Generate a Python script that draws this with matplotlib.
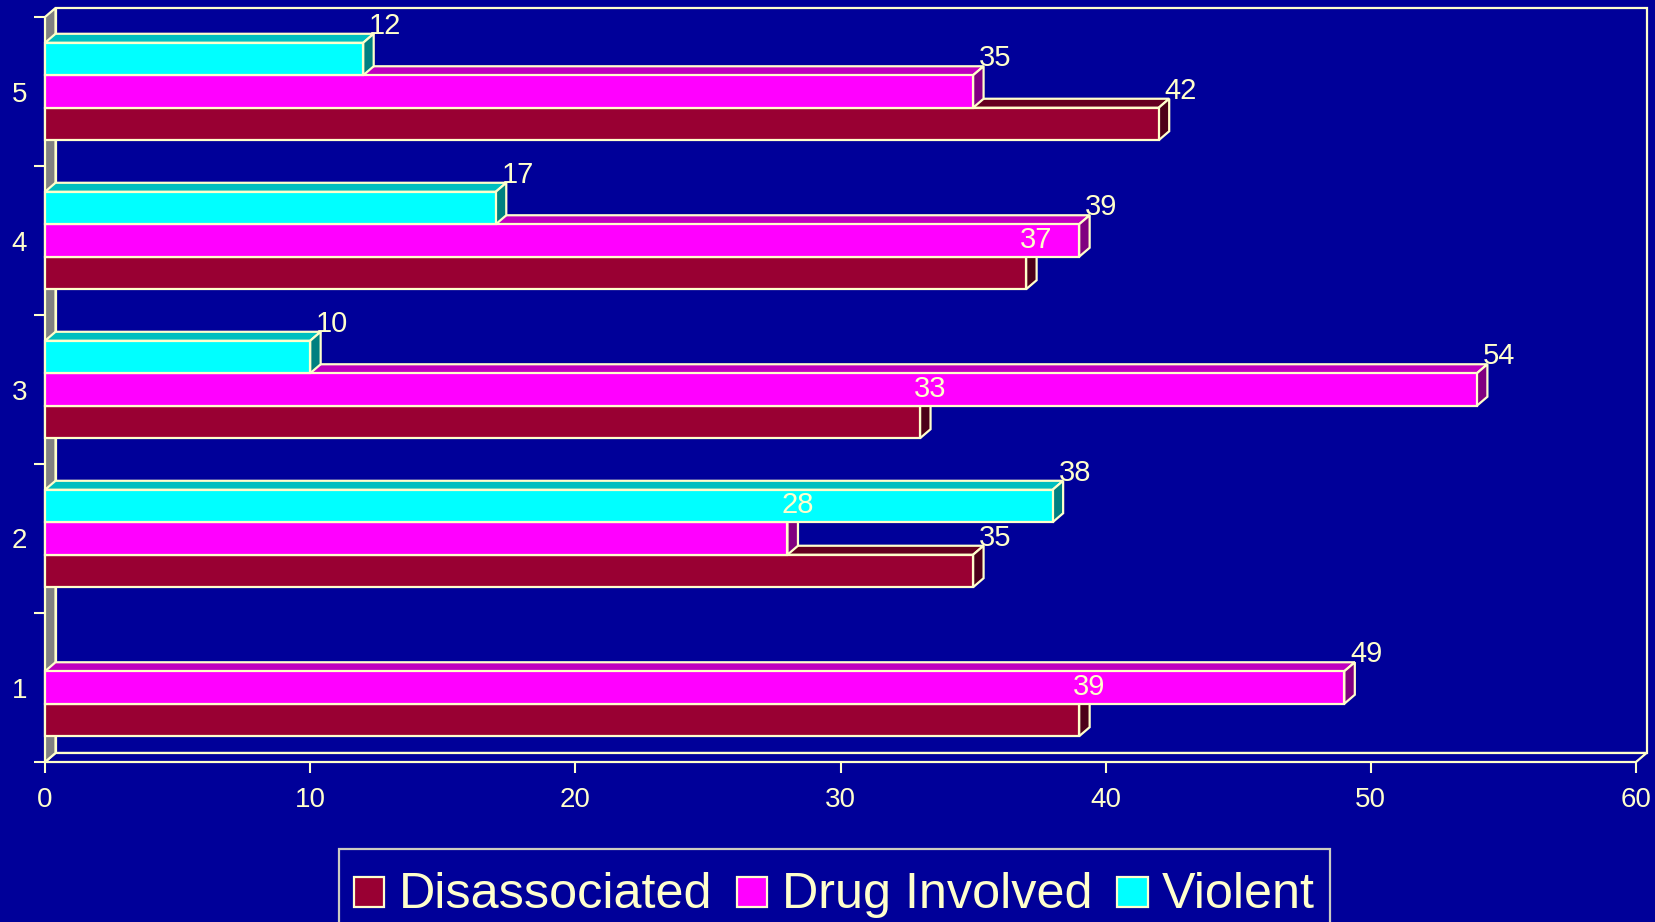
import matplotlib
matplotlib.use('Agg')
import matplotlib.pyplot as plt
from matplotlib.patches import Polygon, Rectangle
from matplotlib.legend_handler import HandlerPatch
import numpy as np

# ---- data -------------------------------------------------------------
categories = ['1', '2', '3', '4', '5']
disassociated = [39, 35, 33, 37, 42]
drug_involved = [49, 28, 54, 39, 35]
violent = [None, 38, 10, 17, 12]
x_ticks = [0, 10, 20, 30, 40, 50, 60]
series_names = ['Disassociated', 'Drug Involved', 'Violent']

# ---- style ------------------------------------------------------------
W, H, DPI = 1655, 922, 100
BG = '#000099'
EDGE = '#FFFFCC'
WALL = '#808080'
# front, top, side shades for each series
shades = [
    ('#990033', '#66001F', '#4D0019'),
    ('#FF00FF', '#BF00BF', '#800080'),
    ('#00FFFF', '#00BFBF', '#008080'),
]
LW = 1.6

plt.rcParams['font.family'] = ['Liberation Sans', 'DejaVu Sans']

fig = plt.figure(figsize=(W / DPI, H / DPI), dpi=DPI, facecolor=BG)
left_px, right_px, top_px, bottom_px = 45, 1636, 17, 762
ax = fig.add_axes([left_px / W, 1 - bottom_px / H,
                   (right_px - left_px) / W, (bottom_px - top_px) / H])
ax.set_facecolor('none')

xmax = x_ticks[-1]
n = len(categories)
ax.set_xlim(0, xmax)
ax.set_ylim(0.5, n + 0.5)

# depth of the pseudo-3D extrusion, converted from pixels to data units
sx = (right_px - left_px) / xmax
sy = (bottom_px - top_px) / n
ddx = 10.5 / sx
ddy = 9.0 / sy

y0, y1 = 0.5, n + 0.5

# walls: back, floor and left side
ax.add_patch(Polygon([(ddx, y0 + ddy), (xmax + ddx, y0 + ddy),
                      (xmax + ddx, y1 + ddy), (ddx, y1 + ddy)],
                     closed=True, fc=BG, ec=EDGE, lw=LW, clip_on=False, zorder=1))
ax.add_patch(Polygon([(0, y0), (xmax, y0), (xmax + ddx, y0 + ddy), (ddx, y0 + ddy)],
                     closed=True, fc=BG, ec=EDGE, lw=LW, clip_on=False, zorder=2))
ax.add_patch(Polygon([(0, y0), (ddx, y0 + ddy), (ddx, y1 + ddy), (0, y1)],
                     closed=True, fc=WALL, ec=EDGE, lw=LW, clip_on=False, zorder=2))

# ---- bars ---------------------------------------------------------------
bh = 0.218
series = [disassociated, drug_involved, violent]
labels = []
z = 3
for i, cat in enumerate(categories):
    yc = i + 1
    for k, vals in enumerate(series):
        v = vals[i]
        if v is None:
            continue
        front, top, side = shades[k]
        lo = yc + (k - 1) * bh - bh / 2
        hi = lo + bh
        ax.add_patch(Polygon([(0, hi), (v, hi), (v + ddx, hi + ddy), (ddx, hi + ddy)],
                             closed=True, fc=top, ec=EDGE, lw=LW, clip_on=False, zorder=z))
        ax.add_patch(Polygon([(v, lo), (v + ddx, lo + ddy), (v + ddx, hi + ddy), (v, hi)],
                             closed=True, fc=side, ec=EDGE, lw=LW, clip_on=False, zorder=z))
        ax.add_patch(Rectangle((0, lo), v, bh, fc=front, ec=EDGE, lw=LW,
                               clip_on=False, zorder=z + 0.5))
        z += 1
        # a label that lands on the longer bar above sits closer to its bar end
        above = series[k + 1][i] if k + 1 < len(series) else None
        inside = above is not None and above > v
        labels.append((v, hi, inside))

for v, hi, inside in labels:
    shift = (10 if inside else 22) / sx
    ax.text(v + shift, hi + ddy, f'{v}', ha='center', va='baseline',
            fontsize=21, color=EDGE, zorder=100, clip_on=False)

# ---- axes, ticks ------------------------------------------------------------
for sp in ax.spines.values():
    sp.set_visible(False)

ax.set_xticks(x_ticks)
ax.set_xticklabels([str(t) for t in x_ticks])
ax.tick_params(axis='x', colors=EDGE, length=8, width=1.5, labelsize=20, pad=10)

ax.set_yticks(np.arange(0.5, n + 1, 1.0))
ax.set_yticklabels([])
ax.set_yticks(np.arange(1, n + 1), minor=True)
ax.set_yticklabels(categories, minor=True)
ax.tick_params(axis='y', which='major', colors=EDGE, length=8, width=1.5)
ax.tick_params(axis='y', which='minor', length=0, labelsize=20,
               labelcolor=EDGE, pad=13)


# ---- legend --------------------------------------------------------------
def square_key(legend, orig_handle, xdescent, ydescent, width, height, fontsize):
    # fixed-size key sitting on the text baseline inside a taller handle box
    return Rectangle((-xdescent, 0.03 * fontsize), width, 0.59 * fontsize)


handles = [Rectangle((0, 0), 1, 1, fc=s[0], ec=EDGE, lw=LW) for s in shades]
leg = fig.legend(handles, series_names, loc='upper left',
                 bbox_to_anchor=(339 / W, 1 - 849 / H), bbox_transform=fig.transFigure,
                 ncol=3, fontsize=36.3, frameon=True, fancybox=False,
                 facecolor=BG, edgecolor=EDGE, borderaxespad=0, borderpad=0.3,
                 handlelength=0.6, handleheight=1.3, handletextpad=0.28,
                 columnspacing=0.5, labelcolor=EDGE,
                 handler_map={Rectangle: HandlerPatch(patch_func=square_key)})
leg.get_frame().set_linewidth(LW)

fig.savefig('out.png', dpi=DPI, facecolor=BG)
